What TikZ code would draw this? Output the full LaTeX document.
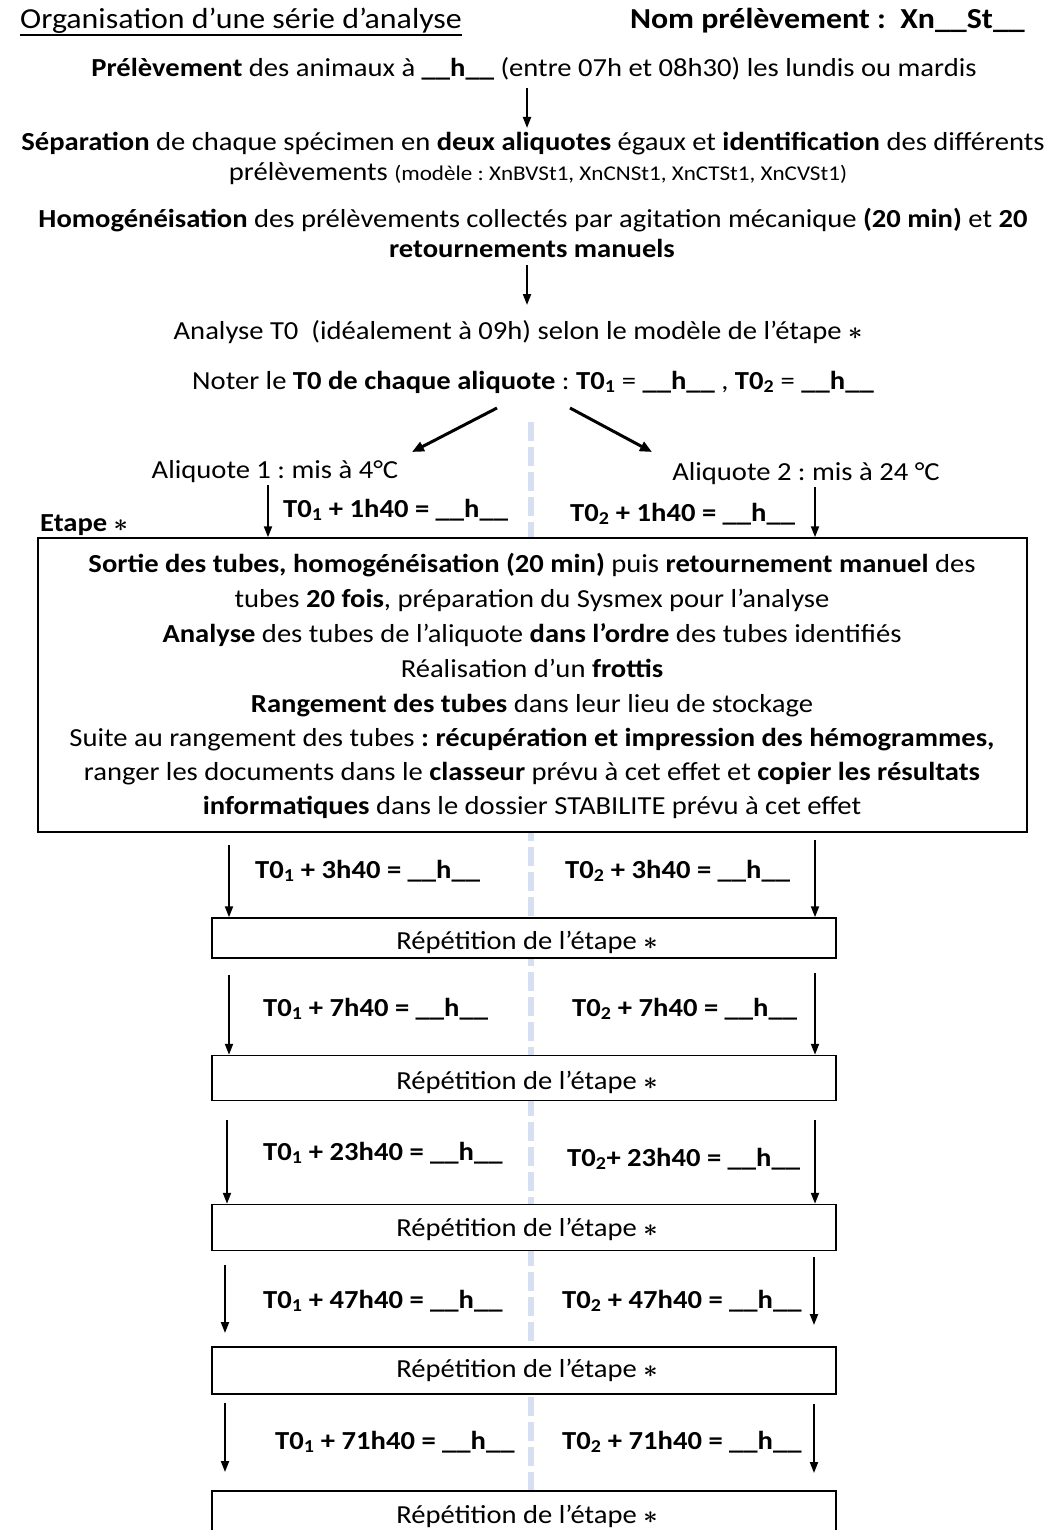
\documentclass[tikz,border=0pt]{standalone}
\usepackage{fontspec}
\setmainfont{Carlito}[FakeStretch=1.1]
\usetikzlibrary{arrows.meta}
\definecolor{dashblue}{RGB}{214,224,242}
\newcommand\fsmain{\fontsize{26}{30}\selectfont}
\newcommand\fstitle{\fontsize{29}{34}\selectfont}
\newcommand\fssmall{\fontsize{21}{24}\selectfont}
\newcommand\stp{{\boldmath$\ast$}}
\newcommand\blank{\_\_h\_\_}
\frenchspacing
\begin{document}
\begin{tikzpicture}[x=1pt,y=-1pt,
  txt/.style={inner sep=0pt, anchor=base, font=\fsmain},
  ltxt/.style={inner sep=0pt, anchor=base west, font=\fsmain\bfseries},
  box/.style={draw, line width=1.5pt, fill=white, inner sep=0pt},
  arr/.style={line width=2pt, -{Triangle[length=11pt,width=8pt]}},
  darr/.style={line width=3pt, -{Triangle[length=12pt,width=10pt]}}
]
\path[use as bounding box] (0,0) rectangle (1052,1530);
\fill[white] (0,0) rectangle (1052,1530);
% dashed guide
\draw[dashblue, line width=6pt, dash pattern=on 19pt off 6pt] (531,422) -- (531,1530);

% title
\node[inner sep=0pt, anchor=base west, font=\fstitle] (title) at (20,29) {Organisation d’une série d’analyse};
\draw[line width=2pt] (title.base west) ++(0,6) coordinate (ul1) -- (title.base east |- ul1);
\node[inner sep=0pt, anchor=base east, font=\fstitle\bfseries] (nom) at (1025,29) {Nom prélèvement :\ \ Xn\_\_St\_\_};

\node[txt] (prel) at (534,77) {\textbf{Prélèvement} des animaux à \textbf{\blank} (entre 07h et 08h30) les lundis ou mardis};
\node[txt] (sep1) at (533,151) {\textbf{Séparation} de chaque spécimen en \textbf{deux aliquotes} égaux et \textbf{identification} des différents};
\node[txt] (sep2) at (538,181) {prélèvements {\fssmall(modèle : XnBVSt1, XnCNSt1, XnCTSt1, XnCVSt1)}};
\node[txt] (hom1) at (533,228) {\textbf{Homogénéisation} des prélèvements collectés par agitation mécanique \textbf{(20 min)} et \textbf{20}};
\node[txt] (hom2) at (532,258) {\textbf{retournements manuels}};
\node[txt] (ana) at (518,339) {Analyse T0\ \ (idéalement à 09h) selon le modèle de l’étape \stp};
\node[txt] (noter) at (533,389) {Noter le \textbf{T0 de chaque aliquote} : \textbf{T0\textsubscript{1}} = \textbf{\blank} , \textbf{T0\textsubscript{2}} = \textbf{\blank}};

\coordinate (a1s) at (527,88); \coordinate (a1e) at (527,128);
\draw[arr] (a1s) -- (a1e);
\coordinate (a2s) at (527,265); \coordinate (a2e) at (527,305);
\draw[arr] (a2s) -- (a2e);
\coordinate (d1s) at (497,408); \coordinate (d1e) at (412,452);
\coordinate (d2s) at (570,408); \coordinate (d2e) at (652,452);
\draw[darr] (d1s) -- (d1e);
\draw[darr] (d2s) -- (d2e);

\node[txt] (al1) at (275,478) {Aliquote 1 : mis à 4°C};
\node[txt] (al2) at (806,480) {Aliquote 2 : mis à 24 °C};
\node[ltxt] (t1a) at (283,517) {T0\textsubscript{1} + 1h40 = \blank};
\node[ltxt] (t2a) at (570,521) {T0\textsubscript{2} + 1h40 = \blank};
\node[ltxt] (etl) at (40,531) {Etape \stp};

% big box
\node[box, minimum width=989pt, minimum height=294pt] (etape) at (532.5,685) {};
\coordinate (ka) at (268,485); \coordinate (kb) at (815,487);
\draw[arr] (ka) -- (ka |- etape.north);
\draw[arr] (kb) -- (kb |- etape.north);

\node[txt] (e1) at (532,572) {\textbf{Sortie des tubes, homogénéisation (20 min)} puis \textbf{retournement manuel} des};
\node[txt] (e2) at (532,607) {tubes \textbf{20 fois}, préparation du Sysmex pour l’analyse};
\node[txt] (e3) at (532,642) {\textbf{Analyse} des tubes de l’aliquote \textbf{dans l’ordre} des tubes identifiés};
\node[txt] (e4) at (532,677) {Réalisation d’un \textbf{frottis}};
\node[txt] (e5) at (532,712) {\textbf{Rangement des tubes} dans leur lieu de stockage};
\node[txt] (e6) at (532,746) {Suite au rangement des tubes \textbf{: récupération et impression des hémogrammes,}};
\node[txt] (e7) at (532,780) {ranger les documents dans le \textbf{classeur} prévu à cet effet et \textbf{copier les résultats}};
\node[txt] (e8) at (532,814) {\textbf{informatiques} dans le dossier STABILITE prévu à cet effet};

% repetition boxes
\node[box, minimum width=624pt, minimum height=40pt] (r1) at (524,938) {};
\node[box, minimum width=624pt, minimum height=45pt] (r2) at (524,1078) {};
\node[box, minimum width=624pt, minimum height=46pt] (r3) at (524,1227.5) {};
\node[box, minimum width=624pt, minimum height=47pt] (r4) at (524,1370.5) {};
\node[box, minimum width=624pt, minimum height=80pt] (r5) at (524,1531) {};
\foreach \n/\y in {r1/949, r2/1089, r3/1236, r4/1377, r5/1523}{
  \node[txt] (\n t) at (527,\y) {Répétition de l’étape \stp};
}

% arrows between steps
\coordinate (b1) at (229,845); \coordinate (b2) at (815,840);
\coordinate (c1) at (229,975); \coordinate (c2) at (815,973);
\coordinate (f1) at (227,1120); \coordinate (f2) at (815,1120);
\draw[arr] (b1) -- (b1 |- r1.north);
\draw[arr] (b2) -- (b2 |- r1.north);
\draw[arr] (c1) -- (c1 |- r2.north);
\draw[arr] (c2) -- (c2 |- r2.north);
\draw[arr] (f1) -- (f1 |- r3.north);
\draw[arr] (f2) -- (f2 |- r3.north);
\coordinate (g1) at (225,1265); \coordinate (g1e) at (225,1333);
\coordinate (g2) at (814,1257); \coordinate (g2e) at (814,1325);
\coordinate (h1) at (225,1403); \coordinate (h1e) at (225,1472);
\coordinate (h2) at (814,1404); \coordinate (h2e) at (814,1473);
\draw[arr] (g1) -- (g1e);
\draw[arr] (g2) -- (g2e);
\draw[arr] (h1) -- (h1e);
\draw[arr] (h2) -- (h2e);

\node[ltxt] (t1b) at (255,878) {T0\textsubscript{1} + 3h40 = \blank};
\node[ltxt] (t2b) at (565,878) {T0\textsubscript{2} + 3h40 = \blank};
\node[ltxt] (t1c) at (263,1016) {T0\textsubscript{1} + 7h40 = \blank};
\node[ltxt] (t2c) at (572,1016) {T0\textsubscript{2} + 7h40 = \blank};
\node[ltxt] (t1d) at (263,1160) {T0\textsubscript{1} + 23h40 = \blank};
\node[ltxt] (t2d) at (567,1166) {T0\textsubscript{2}+ 23h40 = \blank};
\node[ltxt] (t1e) at (263,1308) {T0\textsubscript{1} + 47h40 = \blank};
\node[ltxt] (t2e) at (562,1308) {T0\textsubscript{2} + 47h40 = \blank};
\node[ltxt] (t1f) at (275,1449) {T0\textsubscript{1} + 71h40 = \blank};
\node[ltxt] (t2f) at (562,1449) {T0\textsubscript{2} + 71h40 = \blank};
\end{tikzpicture}
\end{document}
